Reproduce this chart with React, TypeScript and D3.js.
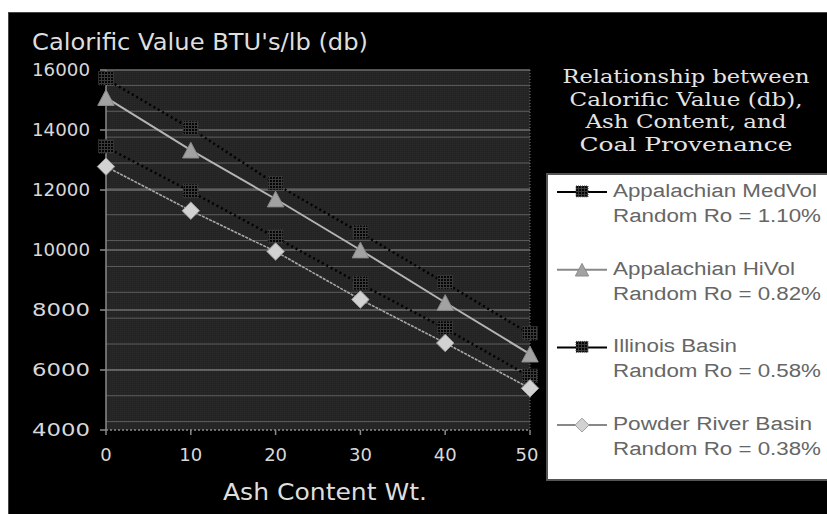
import React from "react";
import * as d3 from "d3";

const ashContent = [0, 10, 20, 30, 40, 50];
const appalachianMedVol = [15700, 14050, 12200, 10570, 8900, 7200];
const appalachianHiVol = [15080, 13330, 11700, 10000, 8250, 6530];
const illinoisBasin = [13430, 11950, 10420, 8870, 7380, 5780];
const powderRiverBasin = [12780, 11310, 9950, 8350, 6900, 5390];

const yTickValues = [4000, 6000, 8000, 10000, 12000, 14000, 16000];
const xTickValues = [0, 10, 20, 30, 40, 50];
const minorGridStart = 4280;
const minorGridStep = 862;

const legendNames = [
  "Appalachian MedVol",
  "Appalachian HiVol",
  "Illinois Basin",
  "Powder River Basin",
];
const legendNameWidths = [204, 182, 124, 199];
const legendRo = ["Random Ro = 1.10%", "Random Ro = 0.82%", "Random Ro = 0.58%", "Random Ro = 0.38%"];
const titleLines = ["Relationship between", "Calorific Value (db),", "Ash Content, and", "Coal Provenance"];
const titleWidths = [247, 233, 201, 213];

type Kind = "square" | "triangle" | "diamond";

const series = [
  { values: appalachianMedVol, kind: "square" as Kind, line: "#000", width: 2.5, dash: "2 3" },
  { values: appalachianHiVol, kind: "triangle" as Kind, line: "#b4b4b4", width: 2, dash: "" },
  { values: illinoisBasin, kind: "square" as Kind, line: "#000", width: 2.5, dash: "2 3" },
  { values: powderRiverBasin, kind: "diamond" as Kind, line: "#a8a8a8", width: 1.6, dash: "3 1" },
];

function Marker({ kind, cx, cy, s }: { kind: Kind; cx: number; cy: number; s: number }) {
  if (kind === "square") {
    return (
      <rect x={cx - s / 2} y={cy - s / 2} width={s} height={s * 0.9} fill="url(#sqpat)" stroke="#3c3c3c" strokeWidth={1} strokeDasharray="1 1" />
    );
  }
  if (kind === "triangle") {
    const w = s * 1.1, h = s * 1.05;
    const p = d3.path();
    p.moveTo(cx, cy - h / 2);
    p.lineTo(cx + w / 2, cy + h / 2);
    p.lineTo(cx - w / 2, cy + h / 2);
    p.closePath();
    return <path d={p.toString()} fill="#a2a2a2" stroke="#8a8a8a" strokeWidth={1} />;
  }
  const r = s * 0.58;
  const p = d3.path();
  p.moveTo(cx, cy - r);
  p.lineTo(cx + r, cy);
  p.lineTo(cx, cy + r);
  p.lineTo(cx - r, cy);
  p.closePath();
  return <path d={p.toString()} fill="#d2d2d2" stroke="#a0a0a0" strokeWidth={1} />;
}

export default function App() {
  const x = d3.scaleLinear().domain([0, 50]).range([106, 530]);
  const y = d3.scaleLinear().domain([4000, 16000]).range([430, 70]);
  const minor = d3.range(minorGridStart, 16000, minorGridStep);
  const axisFont = "'DejaVu Sans', sans-serif";

  return (
    <svg width={827} height={514} style={{ position: "absolute", left: 0, top: 0, background: "#fff" }}>
      <defs>
        <pattern id="sqpat" width={3} height={3} patternUnits="userSpaceOnUse">
          <rect width={3} height={3} fill="#3a3a3a" />
          <rect width={2} height={2} fill="#050505" />
        </pattern>
        <pattern id="bgpat" width={2} height={2} patternUnits="userSpaceOnUse">
          <rect width={2} height={2} fill="#242424" />
          <rect width={1} height={1} fill="#2a2a2a" />
        </pattern>
      </defs>
      <rect x={8} y={12} width={830} height={510} fill="#000" />
      <rect x={8.5} y={12.5} width={830} height={510} fill="none" stroke="#8a8a8a" strokeDasharray="1 1" />

      {/* plot area */}
      <rect x={x(0)} y={y(16000)} width={x(50) - x(0)} height={y(4000) - y(16000)} fill="url(#bgpat)" />
      {minor.map((v) => (
        <line key={"m" + v} x1={x(0)} x2={x(50)} y1={y(v)} y2={y(v)} stroke="#5e5e5e" strokeWidth={1} />
      ))}
      {yTickValues.filter((v) => v > 4000).map((v) => (
        <line key={"g" + v} x1={x(0)} x2={x(50)} y1={y(v)} y2={y(v)} stroke="#6e6e6e" strokeWidth={1.6} />
      ))}
      <line x1={x(50)} x2={x(50)} y1={y(16000)} y2={y(4000)} stroke="#777" strokeDasharray="1 2" />
      <line x1={x(0)} x2={x(50)} y1={y(4000)} y2={y(4000)} stroke="#8a8a8a" strokeWidth={1.5} strokeDasharray="2 2" />
      <line x1={x(0)} x2={x(0)} y1={y(16000)} y2={y(4000)} stroke="#8a8a8a" strokeWidth={1.5} />

      {/* axes ticks and labels */}
      {yTickValues.map((v) => (
        <g key={"y" + v}>
          <line x1={x(0) - 6} x2={x(0)} y1={y(v)} y2={y(v)} stroke="#8a8a8a" strokeWidth={1.5} />
          <text x={90} y={y(v)} dy="0.36em" textAnchor="end" fill="#d8d8d8" fontFamily={axisFont} fontSize={18} textLength={58} lengthAdjust="spacingAndGlyphs">
            {String(v)}
          </text>
        </g>
      ))}
      {xTickValues.map((v) => (
        <g key={"x" + v}>
          <line x1={x(v)} x2={x(v)} y1={y(4000)} y2={y(4000) + 5} stroke="#8a8a8a" strokeWidth={1.5} />
          <text x={x(v) - (v === 50 ? 3 : 0)} y={455} dy="0.36em" textAnchor="middle" fill="#d8d8d8" fontFamily={axisFont} fontSize={18}>
            {String(v)}
          </text>
        </g>
      ))}

      {/* series */}
      {series.map((s, i) => {
        const line = d3
          .line<number>()
          .x((_, j) => x(ashContent[j]))
          .y((d) => y(d));
        return (
          <path key={"l" + i} d={line(s.values) || ""} fill="none" stroke={s.line} strokeWidth={s.width} strokeDasharray={s.dash || undefined} />
        );
      })}
      {series.map((s, i) =>
        s.values.map((v, j) => (
          <Marker key={"p" + i + "-" + j} kind={s.kind} cx={x(ashContent[j])} cy={y(v)} s={15} />
        ))
      )}

      {/* titles */}
      <text x={32} y={50} fill="#dedede" fontFamily={axisFont} fontSize={23} textLength={336} lengthAdjust="spacingAndGlyphs">
        Calorific Value BTU's/lb (db)
      </text>
      <text x={325} y={500} textAnchor="middle" fill="#dedede" fontFamily={axisFont} fontSize={23} textLength={204} lengthAdjust="spacingAndGlyphs">
        Ash Content Wt.
      </text>
      {titleLines.map((t, i) => (
        <text key={"t" + i} x={686} y={83 + i * 22.7} textAnchor="middle" fill="#e4e4e4" fontFamily="'DejaVu Serif', serif" fontSize={18} textLength={titleWidths[i]} lengthAdjust="spacingAndGlyphs">
          {t}
        </text>
      ))}

      {/* legend */}
      <rect x={547} y={174} width={290} height={306} fill="#fff" stroke="#555" strokeWidth={2} />
      {series.map((s, i) => {
        const cy = 192 + i * 77.7;
        const lineColor = s.kind === "square" ? "#000" : "#888";
        return (
          <g key={"lg" + i}>
            <line x1={557} x2={607} y1={cy} y2={cy} stroke={lineColor} strokeWidth={2} />
            <Marker kind={s.kind} cx={582} cy={cy} s={12} />
            <text x={613} y={cy + 5} fill="#666" fontFamily="'Liberation Sans', sans-serif" fontSize={18} textLength={legendNameWidths[i]} lengthAdjust="spacingAndGlyphs">
              {legendNames[i]}
            </text>
            <text x={613} y={cy + 30} fill="#666" fontFamily="'Liberation Sans', sans-serif" fontSize={18} textLength={208} lengthAdjust="spacingAndGlyphs">
              {legendRo[i]}
            </text>
          </g>
        );
      })}
    </svg>
  );
}
